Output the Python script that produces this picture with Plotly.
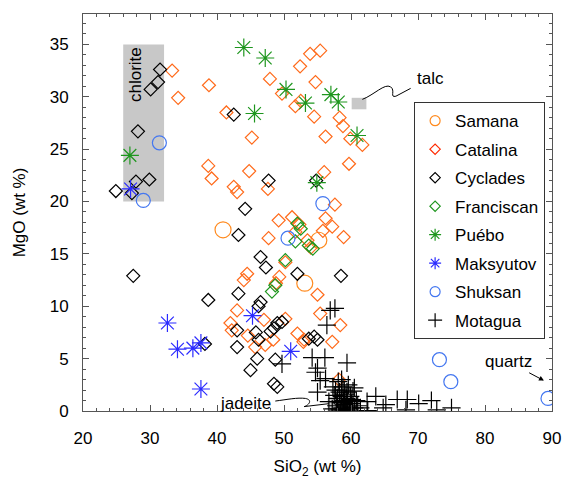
import plotly.graph_objects as go

# ---------------- data (SiO2 wt%, MgO wt%) ----------------
samana_x = [40.9, 53.1, 55.2]
samana_y = [17.3, 12.2, 16.3]

catalina_x = [33.3, 34.2, 38.8, 41.4, 45.2, 38.7, 39.2, 42.5, 43.0, 44.8, 47.6, 47.9, 49.7, 51.7,
              52.5, 52.4, 53.9, 55.4, 54.7, 54.5, 58.3, 58.8, 56.2, 59.9, 61.7, 59.7, 56.0, 57.6,
              49.2, 51.2, 51.7, 47.7, 52.3, 53.5, 54.0, 56.2, 57.2, 55.8, 58.9, 50.2, 44.5, 44.0,
              48.8, 49.3, 55.0, 43.0, 42.0, 42.2, 47.0, 50.2, 45.7, 47.2, 52.0, 53.0, 55.4, 58.4,
              57.2, 52.9, 58.2, 44.6, 48.4]
catalina_y = [32.5, 29.9, 31.1, 28.5, 26.1, 23.4, 22.2, 21.4, 20.9, 22.9, 21.2, 31.7, 30.3, 29.1,
              29.6, 32.9, 34.1, 34.4, 31.4, 28.1, 28.0, 27.2, 26.2, 26.0, 25.4, 23.6, 22.8, 19.7,
              18.2, 18.5, 17.1, 16.5, 17.8, 16.3, 15.6, 18.4, 17.6, 17.2, 16.6, 14.2, 13.1, 12.5,
              12.2, 12.8, 11.1, 9.6, 8.4, 7.7, 8.7, 8.8, 6.1, 6.3, 7.4, 6.8, 9.3, 8.2,
              6.6, 6.6, 3.0, 7.2, 6.8]

cyclades_x = [31.5, 31.2, 30.1, 28.2, 29.9, 27.9, 24.9, 27.3, 42.5, 47.7, 44.2, 54.8, 43.2, 27.5,
              38.7, 38.2, 46.5, 47.3, 52.0, 58.5, 43.2, 46.5, 46.2, 43.0, 45.8, 43.0, 49.0, 49.7,
              48.5, 48.0, 46.2, 46.0, 45.0, 48.7, 48.5, 49.0, 53.7, 54.5, 55.0]
cyclades_y = [32.6, 31.4, 30.7, 26.7, 22.1, 21.9, 21.0, 20.8, 28.3, 22.0, 19.3, 22.0, 16.8, 12.9,
              10.6, 6.4, 14.7, 13.7, 13.1, 12.9, 11.2, 10.4, 10.0, 7.7, 7.5, 6.1, 8.4, 8.5,
              7.9, 7.6, 6.8, 5.0, 3.9, 4.9, 2.6, 2.3, 6.9, 7.1, 6.8]

franciscan_x = [52.0, 52.5, 51.7, 53.7, 54.3, 50.2, 48.7, 48.2]
franciscan_y = [17.9, 17.4, 16.2, 15.8, 15.5, 14.4, 12.0, 11.4]

puebo_x = [44.0, 47.2, 50.3, 53.2, 45.6, 57.0, 58.1, 60.9, 54.9, 27.0]
puebo_y = [34.7, 33.7, 30.7, 29.4, 28.4, 30.2, 29.5, 26.3, 21.8, 24.4]

maksyutov_x = [27.1, 32.6, 34.1, 36.4, 37.6, 37.6, 45.3, 51.0]
maksyutov_y = [21.2, 8.4, 5.9, 6.0, 6.5, 2.1, 9.1, 5.7]

shuksan_x = [31.4, 29.0, 55.8, 50.6, 73.2, 74.9, 89.4]
shuksan_y = [25.6, 20.1, 19.8, 16.5, 4.9, 2.8, 1.2]

motagua_x = [49.7, 54.2, 56.1, 59.4, 55.0, 54.7, 56.2, 55.4, 57.3, 55.0, 57.7, 60.5, 56.9, 57.6,
             56.4, 63.7, 62.4, 65.2, 64.8, 66.9, 68.4, 68.2, 70.1, 72.0, 72.8, 75.0, 61.4, 56.7,
             62.5, 57.8, 58.0, 58.2, 58.3, 58.5, 58.6, 58.7, 58.8, 58.9, 59.0, 59.1, 59.2, 59.3,
             59.4, 59.5, 59.6, 59.8, 59.9, 60.1, 60.3, 60.5, 60.8, 57.5, 57.9, 58.1, 58.4, 59.0,
             59.7, 60.0, 61.0, 58.6, 57.2, 58.0, 58.9, 59.4, 60.2]
motagua_y = [4.5, 5.1, 5.1, 4.6, 4.1, 3.7, 3.1, 2.9, 2.3, 1.8, 2.0, 2.2, 9.6, 9.8,
             8.2, 1.4, 0.9, 0.6, 0.3, 1.1, 1.1, 0.1, 0.7, 1.0, 0.1, 0.3, 0.3, 0.9,
             0.05, 0.5, 1.2, 0.2, 1.8, 0.8, 1.4, 0.3, 2.3, 1.0, 0.6, 1.6, 0.1, 1.2,
             0.4, 0.9, 2.5, 0.2, 1.4, 0.7, 1.9, 0.3, 1.0, 1.5, 0.9, 2.8, 0.1, 2.0,
             0.0, 1.1, 0.5, 3.0, 0.2, 0.0, 0.1, 1.8, 0.0]

x_ticks = [20, 30, 40, 50, 60, 70, 80, 90]
y_ticks = [0, 5, 10, 15, 20, 25, 30, 35]

# ---------------- styling ----------------
FONT = "Liberation Sans, Arial, Helvetica, sans-serif"
C_SAMANA = "#FF8A1E"
C_CATALINA = "#FF6A1A"
C_CATALINA_LEG = "#FF2A00"
C_GREEN = "#1E961E"
C_BLUE = "#2B2BFF"
C_SHUK = "#4477F0"

fig = go.Figure()

series = [
    ("Samana", samana_x, samana_y, "circle-open", C_SAMANA, C_SAMANA, 16, 10),
    ("Catalina", catalina_x, catalina_y, "diamond-open", C_CATALINA, C_CATALINA_LEG, 10, 8),
    ("Cyclades", cyclades_x, cyclades_y, "diamond-open", "#000000", "#000000", 10, 8),
    ("Franciscan", franciscan_x, franciscan_y, "diamond-open", C_GREEN, C_GREEN, 10, 8),
    ("Puébo", puebo_x, puebo_y, "asterisk-open", C_GREEN, C_GREEN, 15, 10),
    ("Maksyutov", maksyutov_x, maksyutov_y, "asterisk-open", C_BLUE, C_BLUE, 15, 10),
    ("Shuksan", shuksan_x, shuksan_y, "circle-open", C_SHUK, C_SHUK, 14, 10),
    ("Motagua", motagua_x, motagua_y, "cross-thin-open", "#000000", "#000000", 13, 10),
]

for name, xs, ys, sym, col, lcol, size, lsize in series:
    fig.add_trace(go.Scatter(
        x=xs, y=ys, mode="markers", name=name, showlegend=False, legendgroup=name,
        marker=dict(symbol=sym, size=size, color=col, line=dict(color=col, width=1.2)),
        hoverinfo="skip"))

for name, xs, ys, sym, col, lcol, size, lsize in series:
    fig.add_trace(go.Scatter(
        x=[None], y=[None], mode="markers", name=name, showlegend=True, legendgroup=name,
        marker=dict(symbol=sym, size=lsize, color=lcol, line=dict(color=lcol, width=1.2))))

GRAY = "#C8C8C8"
shapes = [
    dict(type="rect", xref="x", yref="y", x0=26, x1=32.1, y0=20, y1=35,
         fillcolor=GRAY, line=dict(width=0), layer="below"),
    dict(type="rect", xref="x", yref="y", x0=60.1, x1=62.3, y0=28.8, y1=29.9,
         fillcolor=GRAY, line=dict(width=0), layer="below"),
    dict(type="rect", xref="x", yref="y", x0=56.5, x1=61.0, y0=0, y1=1.2,
         fillcolor=GRAY, line=dict(width=0), layer="below"),
    dict(type="path", xref="x", yref="y",
         path="M 61.7 29.75 C 63.5 30.2, 65.0 31.3, 65.9 30.95 C 66.7 30.6, 65.7 29.9, 66.7 30.05 L 68.9 30.8",
         line=dict(color="#000000", width=1)),
    dict(type="path", xref="x", yref="y",
         path="M 48.7 0.95 C 50.5 1.1, 52.0 1.3, 53.2 1.2 C 54.4 1.05, 53.6 0.5, 53.0 0.42 L 56.7 0.7",
         line=dict(color="#000000", width=1)),
]

annotations = [
    dict(x=27.8, y=32.1, xref="x", yref="y", text="chlorite", textangle=-90, showarrow=False,
         font=dict(family=FONT, size=17, color="#000")),
    dict(x=71.8, y=31.7, xref="x", yref="y", text="talc", showarrow=False,
         font=dict(family=FONT, size=17, color="#000")),
    dict(x=44.2, y=0.75, xref="x", yref="y", text="jadeite", showarrow=False,
         font=dict(family=FONT, size=17, color="#000")),
    dict(x=88.8, y=2.9, ax=83.5, ay=4.7, xref="x", yref="y", axref="x", ayref="y",
         text="quartz", showarrow=True, arrowhead=2, arrowsize=1, arrowwidth=1,
         arrowcolor="#000", font=dict(family=FONT, size=17, color="#000")),
]

axis_common = dict(
    showline=True, linecolor="#555555", linewidth=1, mirror="allticks",
    ticks="inside", ticklen=6, tickwidth=1, tickcolor="#555555",
    showgrid=False, zeroline=False, automargin=False,
    tickfont=dict(family=FONT, size=17, color="#000"),
)

fig.update_layout(
    width=562, height=479,
    margin=dict(l=83, r=10, t=14, b=68),
    paper_bgcolor="white", plot_bgcolor="white",
    font=dict(family=FONT, color="#000"),
    shapes=shapes, annotations=annotations,
    xaxis=dict(range=[20, 90], tickvals=x_ticks, ticktext=[str(v) for v in x_ticks],
               minor=dict(dtick=2, ticks="inside", ticklen=3, tickcolor="#555555"),
               ticklabelstandoff=12,
               title=dict(text="SiO<sub>2</sub> (wt %)", font=dict(family=FONT, size=17), standoff=18),
               **axis_common),
    yaxis=dict(range=[0, 37.9], tickvals=y_ticks, ticktext=[str(v) for v in y_ticks],
               minor=dict(dtick=1, ticks="inside", ticklen=3, tickcolor="#555555"),
               ticklabelstandoff=10,
               title=dict(text="MgO (wt %)", font=dict(family=FONT, size=17), standoff=19),
               **axis_common),
    legend=dict(x=0.706, y=0.778, xanchor="left", yanchor="top",
                bgcolor="white", bordercolor="#333333", borderwidth=1,
                font=dict(family=FONT, size=17, color="#000"),
                tracegroupgap=3.4, itemsizing="trace"),
)

fig.write_html("out.html")
